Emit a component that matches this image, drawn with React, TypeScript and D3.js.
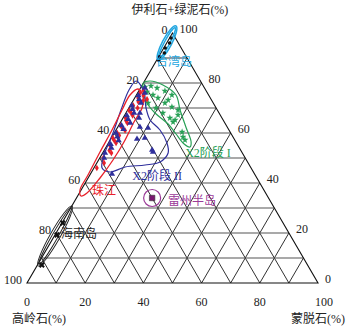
import React from "react";
import * as d3 from "d3";

// Ternary values are [illite+chlorite %, montmorillonite %]; kaolinite = 100 - both.
const gridSteps = [10, 20, 30, 40, 50, 60, 70, 80, 90];
const kaoliniteTicks = [0, 20, 40, 60, 80, 100];
const illiteTicks = [100, 80, 60, 40, 20, 0];
const smectiteTicks = [0, 20, 40, 60, 80, 100];

const taiwanPoints = [[98, 0.5], [96, 1], [94, 0.5], [92, 1.2], [90.5, 0.3], [89, 0.8]];
const taiwanEnvelope = { a: [102.8, -0.2], b: [89.2, 0.4], w: 1.6 };

const stage1Points = [
  [78.4, 1.3], [78.8, 3.2], [78, 5.7], [76.4, 3.0], [76.8, 9.0], [75.2, 12.2], [75.2, 5.7],
  [74, 8.0], [72, 11.4], [70.4, 14.6], [69.2, 17.3], [72, 5.6], [68, 12.7], [66, 16.1],
  [65.2, 18.3], [64.4, 18.0], [67.2, 18.3], [60.4, 23.1], [58.4, 24.4], [57.2, 25.7],
  [73.2, 11.9], [70, 9.3],
];
const stage1Envelope = [
  [80, 0], [80.8, 1.9], [79.2, 7.1], [75.2, 13.6], [69.2, 18.0], [62.4, 23.4], [56.4, 28.2],
  [54.4, 28.8], [55.6, 26.2], [59.6, 21.4], [63.6, 16.7], [68, 10.0], [72, 5.2], [76.4, 1.7],
];

const stage2Points = [
  [78, 1.5], [76, 2.5], [75, 0.8], [73.5, 1.8], [72, 3.2], [71, 0.5], [69.5, 1.5], [68, 2.8],
  [67, 0.8], [65.5, 2], [64, 3.5], [63, 1], [61.5, 2.4], [60, 0.6], [58.5, 1.8], [57, 3],
  [55.5, 1], [54, 2], [52, 0.8], [50, 1.5], [68, 4.8], [62.4, 7.6], [62, 10.6], [58, 11.5],
  [57.6, 9.0], [53.2, 16.4], [52.4, 17.1], [43.6, 7.4], [66, 5.5],
];
const stage2Envelope = [
  [80.8, -2.9], [76.4, 2.0], [70, 5.9], [65.2, 9.7], [61.2, 15.1], [56, 20.1], [52, 22.5],
  [48.4, 21.5], [47.2, 17.0], [46.4, 10.5], [44.4, 6.3], [46, 2.8], [51.2, 0.9], [60, -0.45],
  [69.2, -2.3], [77.2, -3.55],
];

const pearlPoints = [
  [77, 1.5], [76, 0.8], [75, 2.5], [74, 1.2], [73, 3.5], [72.5, 2.0], [71, 1.0], [70, 3.0],
  [69, 0.6], [68, 1.8], [67, 2.8], [66, 0.9], [65, 1.5], [64, 2.5], [63, 0.7], [62, 1.8],
  [61, 3.2], [60, 1.0], [59, 2.2], [58, 0.5], [57, 1.5], [56, 2.6], [55, 1.0], [53, 1.8],
  [52, 3.0], [50, 1.2], [48, 2.5], [46, 1.0], [73.5, 4.5],
];
const pearlEnvelope = [
  [77.6, -0.66], [74.8, 2.46], [70, 4.52], [64.4, 4.57], [56.4, 5.13], [49.2, 4.95], [42, 4.09],
  [36, 2.62], [34.8, 1.16], [37.2, -0.39], [43.2, -0.64], [52.4, -1.11], [61.2, -1.39],
  [69.2, -1.95], [75.2, -2.2],
];

const leizhouPoints = [[34, 26]];

const hainanPoints = [[24, 0.3], [19.2, 0.7], [7.2, 1.5]];
const hainanEnvelope = { a: [30.8, 0.1], b: [6.8, 0.4], w: 1.7 };

const groupNames = ["台湾岛", "X2阶段 I", "X2阶段 II", "珠江", "雷州半岛", "海南岛"];
const groupLabelAt = [[88, 6.5], [51.6, 36.4], [42.4, 23.5], [36.4, 8.3], [32.4, 40.5], [19.2, 8.3]];
const groupColors = ["#22a6e0", "#27a055", "#2f2f9c", "#e8212b", "#9b3a98", "#222222"];

const FONT = "'Liberation Serif', 'Noto Sans CJK SC', serif";

export default function App() {
  const width = 354;
  const height = 328;
  const xs = d3.scaleLinear().domain([0, 100]).range([27, 318]);
  const ys = d3.scaleLinear().domain([0, 100]).range([283, 33]);
  const P = (I: number, S: number): [number, number] => [xs(S + I / 2), ys(I)];

  const gridLines: number[][] = [];
  gridSteps.forEach((k) => {
    gridLines.push([...P(k, 0), ...P(k, 100 - k)]);
  });
  const diagLines: number[][] = [];
  gridSteps.forEach((k) => {
    diagLines.push([...P(0, k), ...P(100 - k, k)]);
    diagLines.push([...P(0, 100 - k), ...P(100 - k, 0)]);
  });

  const outline = d3
    .line<number[]>()
    .x((d) => P(d[0], d[1])[0])
    .y((d) => P(d[0], d[1])[1])
    .curve(d3.curveCatmullRomClosed.alpha(0.5));

  const ellipse = (env: { a: number[]; b: number[]; w: number }, shrink: number) => {
    const [x1, y1] = P(env.a[0], env.a[1]);
    const [x2, y2] = P(env.b[0], env.b[1]);
    const cx = (x1 + x2) / 2;
    const cy = (y1 + y2) / 2;
    const rx = Math.hypot(x2 - x1, y2 - y1) / 2 - shrink;
    const ry = xs(env.w) - xs(0) - shrink;
    const ang = (Math.atan2(y2 - y1, x2 - x1) * 180) / Math.PI;
    return { cx, cy, rx, ry, ang };
  };

  const sym = (type: any, size: number) => d3.symbol().type(type).size(size)() as string;
  const star = sym(d3.symbolStar, 15);
  const tri = sym(d3.symbolTriangle, 17);
  const diamond = sym(d3.symbolDiamond, 13);
  const dot = sym(d3.symbolCircle, 10);
  const square = sym(d3.symbolSquare, 30);
  const cross = sym(d3.symbolCross, 22);

  const tw1 = ellipse(taiwanEnvelope, 0);
  const tw2 = ellipse(taiwanEnvelope, 2);
  const hn1 = ellipse(hainanEnvelope, 0);
  const hn2 = ellipse(hainanEnvelope, 2);
  const [lzx, lzy] = P(leizhouPoints[0][0], leizhouPoints[0][1]);

  const tri0 = [P(100, 0), P(0, 0), P(0, 100)];

  return (
    <svg width={width} height={height} style={{ position: "absolute", left: 0, top: 0, background: "#fff" }} fontFamily={FONT}>
      {diagLines.map((l, i) => (
        <line key={"d" + i} x1={l[0]} y1={l[1]} x2={l[2]} y2={l[3]} stroke="#1a1a1a" strokeWidth={0.9} />
      ))}
      {gridLines.map((l, i) => (
        <line key={"h" + i} x1={l[0]} y1={l[1]} x2={l[2]} y2={l[3]} stroke="#555" strokeWidth={1.2} />
      ))}
      <polygon points={tri0.map((p) => p.join(",")).join(" ")} fill="none" stroke="#111" strokeWidth={1.1} />

      {kaoliniteTicks.map((k) => {
        const [x, y] = P(100 - k, 0);
        return (
          <text key={"k" + k} x={x - 5} y={y - 2} textAnchor="end" dominantBaseline="middle" fontSize={12} fill="#222">
            {k}
          </text>
        );
      })}
      {illiteTicks.map((v) => {
        const [x, y] = P(v, 100 - v);
        return (
          <text key={"i" + v} x={x + 7} y={y - 3} textAnchor="start" dominantBaseline="middle" fontSize={12} fill="#222">
            {v}
          </text>
        );
      })}
      {smectiteTicks.map((s, i) => {
        const [x, y] = P(0, s);
        return (
          <text key={"s" + s} x={x + (i === smectiteTicks.length - 1 ? 6 : 0)} y={y + 20} textAnchor="middle" dominantBaseline="middle" fontSize={12} fill="#222">
            {s}
          </text>
        );
      })}
      <text x={180} y={11} textAnchor="middle" dominantBaseline="middle" fontSize={12} fill="#222">伊利石+绿泥石(%)</text>
      <text x={12} y={320} textAnchor="start" dominantBaseline="middle" fontSize={12} fill="#222">高岭石(%)</text>
      <text x={345} y={320} textAnchor="end" dominantBaseline="middle" fontSize={12} fill="#222">蒙脱石(%)</text>

      <path d={outline(stage1Envelope) as string} fill="none" stroke={groupColors[1]} strokeWidth={1.2} />
      <path d={outline(stage2Envelope) as string} fill="none" stroke={groupColors[2]} strokeWidth={1.2} />
      <path d={outline(pearlEnvelope) as string} fill="none" stroke={groupColors[3]} strokeWidth={1.3} />
      {[tw1, tw2].map((e, i) => (
        <ellipse key={"tw" + i} cx={e.cx} cy={e.cy} rx={e.rx} ry={e.ry} transform={`rotate(${e.ang} ${e.cx} ${e.cy})`} fill="none" stroke={groupColors[0]} strokeWidth={1.5} />
      ))}
      {[hn1, hn2].map((e, i) => (
        <ellipse key={"hn" + i} cx={e.cx} cy={e.cy} rx={e.rx} ry={e.ry} transform={`rotate(${e.ang} ${e.cx} ${e.cy})`} fill="none" stroke="#222" strokeWidth={0.9} />
      ))}
      <circle cx={lzx} cy={lzy} r={8.5} fill="none" stroke={groupColors[4]} strokeWidth={1.2} />

      {taiwanPoints.map((d, i) => {
        const [x, y] = P(d[0], d[1]);
        return <path key={"tp" + i} d={dot} transform={`translate(${x},${y})`} fill="#111" />;
      })}
      {stage1Points.map((d, i) => {
        const [x, y] = P(d[0], d[1]);
        return <path key={"s1" + i} d={star} transform={`translate(${x},${y})`} fill={groupColors[1]} />;
      })}
      {pearlPoints.map((d, i) => {
        const [x, y] = P(d[0], d[1]);
        return <path key={"pp" + i} d={diamond} transform={`translate(${x},${y})`} fill={groupColors[3]} />;
      })}
      {stage2Points.map((d, i) => {
        const [x, y] = P(d[0], d[1]);
        return <path key={"s2" + i} d={tri} transform={`translate(${x},${y})`} fill={groupColors[2]} />;
      })}
      {leizhouPoints.map((d, i) => {
        const [x, y] = P(d[0], d[1]);
        return <path key={"lz" + i} d={square} transform={`translate(${x},${y})`} fill="#7a1670" stroke="#333" strokeWidth={0.6} />;
      })}
      {hainanPoints.map((d, i) => {
        const [x, y] = P(d[0], d[1]);
        return <path key={"hp" + i} d={cross} transform={`translate(${x},${y}) rotate(45)`} fill="#111" />;
      })}

      {groupNames.map((n, i) => {
        const [x, y] = P(groupLabelAt[i][0], groupLabelAt[i][1]);
        return (
          <text key={"g" + i} x={x} y={y} textAnchor="middle" dominantBaseline="middle" fontSize={12} fill={groupColors[i]}>
            {n}
          </text>
        );
      })}
    </svg>
  );
}
